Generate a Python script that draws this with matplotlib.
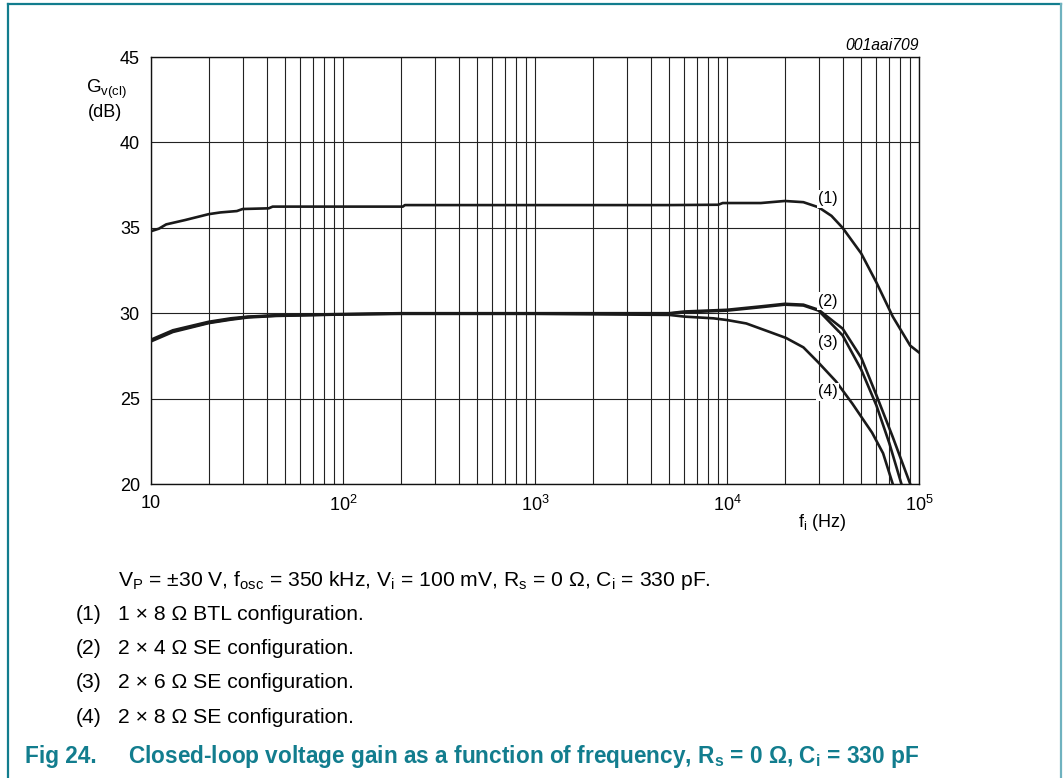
import matplotlib.pyplot as plt
from matplotlib.lines import Line2D

plt.rcParams['font.family'] = ['Liberation Sans', 'DejaVu Sans']
plt.rcParams['mathtext.fontset'] = 'custom'
plt.rcParams['mathtext.rm'] = 'Liberation Sans'
plt.rcParams['mathtext.it'] = 'Liberation Sans:italic'
plt.rcParams['mathtext.bf'] = 'Liberation Sans:bold'

# curve (1): 1 x 8 ohm BTL
f1 = [10, 11, 12, 15, 20, 23, 28, 30, 41, 43, 100, 205, 210, 1000, 5000, 9000, 9500,
      15000, 20000, 25000, 30000, 35000, 40000, 50000, 60000, 73000, 90000, 100000]
g1 = [34.8, 34.95, 35.2, 35.45, 35.8, 35.9, 35.98, 36.1, 36.14, 36.24, 36.24, 36.24, 36.33,
      36.33, 36.33, 36.35, 36.45, 36.45, 36.57, 36.5, 36.2, 35.7, 35.0, 33.5, 31.8, 29.8, 28.1, 27.7]

# curve (2): 2 x 4 ohm SE
f2 = [10, 13, 20, 26, 32, 45, 96, 200, 1000, 5000, 6000, 10000, 15000, 20000, 25000,
      30000, 40000, 50000, 60000, 73000, 90000]
g2 = [28.45, 29.0, 29.5, 29.7, 29.8, 29.88, 29.95, 30.0, 30.0, 30.0, 30.1, 30.2, 30.4,
      30.55, 30.5, 30.2, 29.1, 27.4, 25.2, 22.75, 20.0]

# curve (3): 2 x 6 ohm SE
f3 = [10, 13, 20, 26, 32, 45, 96, 200, 1000, 5000, 6000, 10000, 15000, 20000, 25000,
      30000, 40000, 50000, 60000, 70000, 81000]
g3 = [28.4, 28.95, 29.45, 29.65, 29.78, 29.86, 29.93, 29.98, 29.98, 29.98, 30.05, 30.15,
      30.35, 30.5, 30.45, 30.15, 28.7, 26.7, 24.6, 22.4, 20.0]

# curve (4): 2 x 8 ohm SE
f4 = [10, 13, 20, 26, 32, 45, 96, 200, 1000, 5000, 6000, 8500, 10000, 12600, 16700,
      20300, 25000, 30000, 37000, 45000, 57000, 65000, 73000]
g4 = [28.35, 28.9, 29.42, 29.62, 29.75, 29.84, 29.92, 29.96, 29.96, 29.9, 29.8, 29.7,
      29.6, 29.4, 28.9, 28.55, 28.0, 27.1, 26.0, 24.7, 23.0, 21.8, 20.0]

curve_labels = ['(1)', '(2)', '(3)', '(4)']
label_y = [36.7, 30.7, 28.3, 25.4]

xticks = [10, 100, 1000, 10000, 100000]
xticklabels = ['10', r'$\mathregular{10^2}$', r'$\mathregular{10^3}$',
               r'$\mathregular{10^4}$', r'$\mathregular{10^5}$']
yticks = [20, 25, 30, 35, 40, 45]

fig = plt.figure(figsize=(10.63, 7.78), dpi=100)
ax = fig.add_axes([151 / 1063, 1 - 484 / 778, 768 / 1063, 427 / 778])

for f, g in [(f1, g1), (f2, g2), (f3, g3), (f4, g4)]:
    ax.plot(f, g, color='#1a1a1a', lw=1.9, zorder=3)

ax.set_xscale('log')
ax.set_xlim(10, 1e5)
ax.set_ylim(20, 45)
ax.set_xticks(xticks)
ax.set_xticklabels(xticklabels)
ax.set_yticks(yticks)
ax.grid(True, which='both', axis='x', color='#222222', lw=0.8)
ax.grid(True, which='major', axis='y', color='#222222', lw=0.8)
ax.tick_params(which='both', length=0, labelsize=13, pad=8)
for s in ax.spines.values():
    s.set_linewidth(1.0)
    s.set_color('#111111')

for lab, y in zip(curve_labels, label_y):
    ax.text(33500, y, lab, ha='center', va='center', fontsize=11.5, zorder=4,
            bbox=dict(facecolor='white', edgecolor='none', pad=1))

ax.text(-0.058, 0.925, r'$\mathregular{G_{v(cl)}}$', transform=ax.transAxes,
        ha='center', va='center', fontsize=13.5)
ax.text(-0.06, 0.871, '(dB)', transform=ax.transAxes, ha='center', va='center',
        fontsize=13)
ax.text(0.874, -0.091, r'$\mathregular{f_i}$ (Hz)', transform=ax.transAxes,
        ha='center', va='center', fontsize=13)
ax.text(1.0, 1.028, '001aai709', transform=ax.transAxes, ha='right', va='center',
        fontsize=11.3, style='italic')

# notes below the chart
def fy(py):
    return 1 - py / 778

fig.text(118 / 1063, fy(581),
         r'$\mathregular{V_P}$ = ±30 V, $\mathregular{f_{osc}}$ = 350 kHz, '
         r'$\mathregular{V_i}$ = 100 mV, $\mathregular{R_s}$ = 0 Ω, '
         r'$\mathregular{C_i}$ = 330 pF.', fontsize=15.2, va='center')
notes = ['1 × 8 Ω BTL configuration.', '2 × 4 Ω SE configuration.',
         '2 × 6 Ω SE configuration.', '2 × 8 Ω SE configuration.']
for i, (lab, txt) in enumerate(zip(curve_labels, notes)):
    y = fy(614 + i * 34.5)
    fig.text(76 / 1063, y, lab, fontsize=15.2, va='center')
    fig.text(118 / 1063, y, txt, fontsize=15.2, va='center')

teal = '#127d8e'
fig.text(25 / 1063, fy(757), 'Fig 24.', fontsize=16.3, fontweight='bold',
         color=teal, va='center')
fig.text(128 / 1063, fy(757),
         r'Closed-loop voltage gain as a function of frequency, $\mathbf{R_s}$ = 0 Ω, '
         r'$\mathbf{C_i}$ = 330 pF', fontsize=16.3, fontweight='bold', color=teal,
         va='center')

# page frame
fig.add_artist(Line2D([8 / 1063, 8 / 1063], [0, fy(4)], color=teal, lw=1.6))
fig.add_artist(Line2D([8 / 1063, 1061 / 1063], [fy(4), fy(4)], color=teal, lw=1.6))
fig.add_artist(Line2D([1061 / 1063, 1061 / 1063], [0, fy(4)], color='#6fb2bf', lw=1.6))

fig.savefig('out.png', dpi=100)
